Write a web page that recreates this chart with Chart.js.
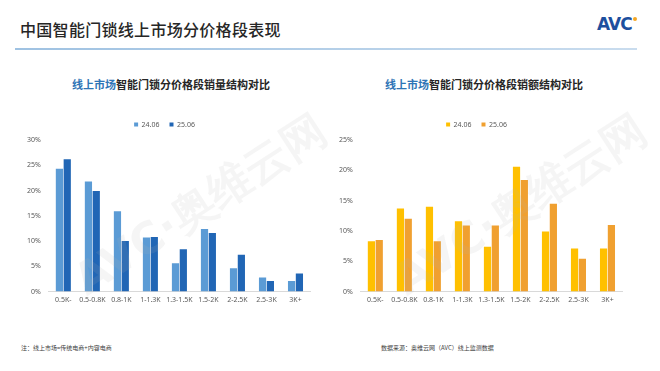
<!DOCTYPE html>
<html>
<head>
<meta charset="utf-8">
<script src="https://cdn.jsdelivr.net/npm/chart.js@4.4.1/dist/chart.umd.min.js"></script>
<style>
  body { margin: 0; background: #fff; font-family: "Noto Sans CJK SC", "Noto Sans", sans-serif; }
  #page { position: relative; width: 660px; height: 371px; overflow: hidden; background: #fff; }
  .abs { position: absolute; }
  #header { left: 20px; top: 17px; font-size: 16px; color: #262626; font-weight: 500; letter-spacing: 0.3px; }
  #hline { left: 15px; top: 48px; width: 622px; height: 2px; background: linear-gradient(90deg, #9fc2e2, #c9dcee); }
  #logo { left: 597px; top: 14px; font-family: "DejaVu Sans", sans-serif; font-weight: bold; font-size: 17px; color: #1d4f9e; letter-spacing: -1px; }
  #dot { left: 633px; top: 17px; width: 4px; height: 4px; border-radius: 2px; background: #f5a623; }
  .ctitle { top: 76px; font-size: 11px; font-weight: bold; color: #262626; white-space: nowrap; transform: translateX(-50%); }
  .ctitle span { color: #2e75b6; }
  .note { top: 343px; font-size: 6px; color: #404040; white-space: nowrap; }
  .wm { color: rgba(180,180,180,0.13); font-family: "DejaVu Sans", sans-serif; font-weight: bold; font-size: 44px; white-space: nowrap; transform: rotate(-33deg); transform-origin: left bottom; pointer-events: none; }
  canvas { position: absolute; }
</style>
</head>
<body>
<div id="page">
  <div id="header" class="abs">中国智能门锁线上市场分价格段表现</div>
  <div id="hline" class="abs"></div>
  <div id="logo" class="abs">AVC</div>
  <div id="dot" class="abs"></div>

  <div class="abs ctitle" style="left:171px;"><span>线上市场</span>智能门锁分价格段销量结构对比</div>
  <div class="abs ctitle" style="left:484px;"><span>线上市场</span>智能门锁分价格段销额结构对比</div>

  <canvas id="volChart" width="330" height="201" style="left:0px; top:107px;"></canvas>
  <canvas id="valChart" width="330" height="201" style="left:312px; top:107px;"></canvas>

  <div class="abs wm" style="left:95px; top:250px;">AVC·奥维云网</div>
  <div class="abs wm" style="left:415px; top:250px;">AVC·奥维云网</div>

  <div class="abs note" style="left:21px;">注：线上市场=传统电商+内容电商</div>
  <div class="abs note" style="left:381px;">数据来源：奥维云网（AVC）线上监测数据</div>
</div>

<script>
const priceBands = ["0.5K-", "0.5-0.8K", "0.8-1K", "1-1.3K", "1.3-1.5K", "1.5-2K", "2-2.5K", "2.5-3K", "3K+"];
const seriesNames = ["24.06", "25.06"];

// 销量结构 (%)
const volume2406 = [24.3, 21.8, 15.9, 10.7, 5.6, 12.4, 4.6, 2.8, 2.1];
const volume2506 = [26.2, 19.9, 10.0, 10.8, 8.4, 11.6, 7.3, 2.1, 3.6];

// 销额结构 (%)
const value2406 = [8.3, 13.7, 14.0, 11.6, 7.4, 20.6, 9.9, 7.1, 7.1];
const value2506 = [8.5, 12.0, 8.3, 10.9, 10.9, 18.4, 14.5, 5.4, 11.0];

const volTicksMax = 30;
const valTicksMax = 25;

// a bit more room under the legend
const legendGap = {
    id: "legendGap",
    beforeInit(chart) {
        const fit = chart.legend.fit;
        chart.legend.fit = function () {
            fit.bind(chart.legend)();
            this.height += 2;
        };
    }
};

function makeChart(id, data1, data2, colors, yMax) {
    let ctx = document.getElementById(id).getContext("2d");
    return new Chart(ctx, {
        type: "bar",
        data: {
            labels: priceBands,
            datasets: [
                { label: seriesNames[0], data: data1, backgroundColor: colors[0], categoryPercentage: 0.54, barPercentage: 0.92 },
                { label: seriesNames[1], data: data2, backgroundColor: colors[1], categoryPercentage: 0.54, barPercentage: 0.92 }
            ]
        },
        plugins: [legendGap],
        options: {
            responsive: false,
            animation: false,
            layout: { padding: { left: 19, right: 20, top: 4, bottom: 0 } },
            plugins: {
                tooltip: { enabled: false },
                legend: {
                    position: "top",
                    labels: {
                        boxWidth: 4,
                        boxHeight: 4,
                        padding: 10,
                        color: "#595959",
                        font: { size: 7, family: "Noto Sans" }
                    }
                }
            },
            scales: {
                x: {
                    grid: { display: false, drawTicks: false },
                    border: { color: "#d9d9d9" },
                    ticks: { color: "#595959", font: { size: 7, family: "Noto Sans" }, padding: 4, maxRotation: 0, autoSkip: false }
                },
                y: {
                    min: 0,
                    max: yMax,
                    grid: { display: false, drawTicks: false },
                    border: { display: false },
                    ticks: {
                        stepSize: 5,
                        color: "#595959",
                        padding: 8,
                        font: { size: 7, family: "Noto Sans" },
                        callback: v => v + "%"
                    }
                }
            }
        }
    });
}

makeChart("volChart", volume2406, volume2506, ["#5b9bd5", "#2166b5"], volTicksMax);
makeChart("valChart", value2406, value2506, ["#ffc000", "#f0a030"], valTicksMax);
</script>
</body>
</html>
